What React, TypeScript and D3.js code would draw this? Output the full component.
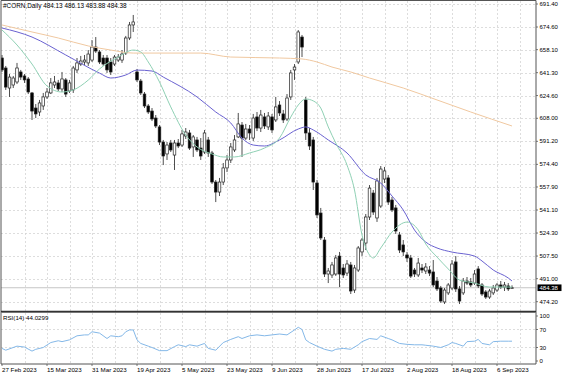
import React from 'react';
import * as d3 from 'd3';

const W = 564;
const H = 376;

const title = '#CORN,Daily 484.13 486.13 483.88 484.38';
const rsiTitle = 'RSI(14) 44.0299';
const lastPrice = 484.38;

const dateLabels = ['27 Feb 2023', '15 Mar 2023', '31 Mar 2023', '19 Apr 2023', '5 May 2023', '23 May 2023', '9 Jun 2023', '28 Jun 2023', '17 Jul 2023', '2 Aug 2023', '18 Aug 2023', '6 Sep 2023'];
const priceTicks = [691.4, 674.6, 658.1, 641.3, 624.6, 608.0, 591.2, 574.4, 557.9, 541.1, 524.3, 507.5, 491.0, 474.2];
const rsiTicks = [100, 70, 30, 0];
const rsiLevels = [70, 30];

const openP = [652.0, 644.7, 630.1, 632.3, 634.5, 641.8, 638.9, 636.7, 626.5, 615.5, 612.6, 617.0, 623.6, 626.5, 632.3, 633.8, 629.4, 636.0, 627.9, 628.7,
  643.3, 647.6, 649.1, 648.4, 650.5, 660.0, 656.4, 652.0, 652.0, 649.1, 647.6, 650.5, 650.5, 655.7, 666.6, 676.1, 641.8, 635.2, 625.7, 617.0,
  613.3, 608.2, 601.7, 590.7, 582.0, 590.0, 581.2, 590.0, 588.5, 595.1, 597.3, 587.1, 592.2, 586.3, 583.4, 592.2, 582.7, 561.5, 554.2, 561.5,
  571.8, 577.6, 584.9, 594.4, 603.1, 593.6, 600.2, 593.6, 609.0, 600.9, 609.0, 601.7, 609.0, 606.8, 617.7, 611.2, 607.5, 623.6, 643.3, 649.1,
  667.3, 621.4, 597.3, 592.2, 560.8, 538.9, 519.2, 494.4, 493.7, 494.4, 507.5, 498.8, 495.1, 501.0, 482.7, 497.3, 510.5, 517.0, 536.0, 553.5,
  535.3, 544.0, 563.7, 564.5, 548.4, 542.6, 522.9, 515.6, 508.3, 506.1, 497.3, 493.7, 498.8, 496.6, 497.3, 495.9, 489.3, 484.2, 474.0, 480.6,
  484.2, 503.2, 483.5, 480.6, 489.3, 488.6, 487.8, 498.1, 486.4, 481.3, 477.6, 480.6, 482.7, 486.4, 484.9, 485.7, 484.13];
const highP = [654.2, 646.2, 640.3, 638.9, 648.4, 643.3, 640.3, 638.1, 627.2, 618.4, 621.4, 626.5, 630.1, 637.4, 638.9, 636.0, 641.8, 637.4, 636.0, 646.2,
  652.0, 653.5, 654.2, 657.8, 665.1, 667.3, 657.8, 654.2, 654.2, 652.0, 654.2, 654.9, 657.8, 668.1, 678.3, 683.4, 644.0, 636.7, 627.2, 618.4,
  615.5, 610.4, 603.1, 592.2, 590.7, 592.2, 592.2, 592.9, 599.5, 600.9, 599.5, 595.8, 594.4, 593.6, 599.5, 594.4, 584.2, 563.0, 564.5, 575.4,
  581.2, 590.0, 595.8, 611.9, 605.3, 603.9, 603.1, 611.2, 612.6, 614.1, 611.9, 612.6, 611.2, 623.6, 620.6, 614.1, 625.7, 643.3, 647.6, 672.4,
  668.8, 623.6, 600.9, 594.4, 563.0, 542.6, 521.4, 498.8, 503.2, 508.3, 510.5, 501.7, 504.6, 503.2, 501.0, 514.8, 520.7, 538.2, 559.3, 555.7,
  564.5, 573.2, 572.5, 566.6, 550.6, 544.8, 525.1, 519.2, 510.5, 508.3, 498.8, 506.1, 501.7, 502.4, 500.2, 504.6, 492.2, 485.7, 484.2, 487.8,
  504.6, 507.5, 485.7, 491.5, 492.2, 491.5, 497.3, 500.2, 487.8, 482.7, 483.5, 486.4, 487.8, 489.3, 488.6, 487.8, 486.13];
const lowP = [641.8, 628.7, 623.6, 630.1, 633.0, 636.0, 633.8, 625.7, 606.8, 608.2, 609.7, 614.1, 622.1, 625.7, 630.1, 627.9, 627.2, 623.6, 626.5, 626.5,
  641.1, 646.2, 646.9, 646.2, 649.1, 655.7, 647.6, 646.2, 641.1, 639.6, 646.2, 649.1, 648.4, 654.2, 665.1, 671.0, 634.5, 625.0, 615.5, 611.2,
  606.0, 600.9, 588.5, 573.9, 577.6, 583.4, 570.3, 586.3, 587.1, 592.9, 584.9, 579.8, 583.4, 577.6, 582.0, 579.8, 560.1, 546.9, 551.3, 559.3,
  568.8, 575.4, 583.4, 593.6, 579.8, 592.2, 592.2, 591.5, 598.7, 598.0, 600.2, 599.5, 597.3, 605.3, 609.7, 604.6, 606.0, 621.4, 636.0, 647.6,
  652.7, 592.2, 584.9, 555.7, 535.3, 519.2, 492.2, 487.8, 491.5, 493.0, 484.9, 491.5, 493.0, 479.8, 480.6, 495.9, 507.5, 511.9, 533.8, 537.5,
  532.4, 542.6, 560.8, 544.8, 539.6, 523.6, 509.7, 507.5, 503.2, 491.5, 492.2, 492.2, 495.1, 494.4, 492.9, 484.9, 482.0, 473.3, 472.5, 479.1,
  482.7, 481.3, 472.5, 479.1, 486.4, 484.9, 486.4, 484.2, 478.4, 476.2, 476.2, 479.1, 481.3, 483.5, 482.0, 482.0, 483.88];
const closeP = [643.3, 630.8, 638.1, 637.4, 644.7, 638.1, 636.0, 627.2, 613.3, 611.2, 619.2, 623.6, 627.2, 633.8, 634.5, 629.4, 636.7, 625.7, 633.8, 644.7,
  648.4, 649.8, 650.5, 654.9, 660.0, 657.1, 649.1, 647.6, 643.3, 641.8, 652.7, 652.7, 654.9, 666.6, 676.1, 678.3, 636.0, 626.5, 617.0, 612.6,
  607.5, 602.4, 590.7, 580.5, 588.5, 584.9, 590.0, 587.8, 596.6, 598.0, 586.3, 594.4, 584.9, 580.5, 597.3, 582.7, 561.5, 554.2, 561.5, 571.8,
  577.6, 587.1, 592.2, 603.9, 593.6, 600.2, 597.3, 608.2, 600.9, 610.4, 602.4, 609.7, 599.5, 616.3, 611.9, 606.8, 622.8, 641.1, 645.4, 671.0,
  660.0, 597.3, 587.8, 561.5, 537.5, 520.7, 494.4, 496.6, 501.0, 506.1, 494.4, 493.7, 501.7, 482.0, 498.8, 513.4, 519.2, 536.0, 557.1, 539.6,
  562.3, 571.0, 569.6, 546.9, 541.1, 525.8, 511.9, 510.5, 506.1, 492.9, 494.4, 502.4, 497.3, 499.5, 495.1, 486.4, 483.5, 474.7, 482.7, 486.4,
  501.7, 483.5, 474.7, 489.3, 487.8, 486.4, 494.4, 485.7, 479.8, 477.6, 482.0, 484.2, 486.4, 484.9, 486.4, 483.5, 484.38];

// moving averages: [bar index, price]
const maSlow: [number, number][] = [[0, 676.1], [8, 671.0], [15, 666.6], [23, 660.8], [29, 657.8], [35, 655.6], [53, 655.6], [61, 652.7], [74, 652.0], [80, 651.3], [84, 649.1], [88, 645.4], [93, 641.8], [98, 637.4], [107, 630.1], [116, 621.4], [125, 612.6], [136, 602.4]];
const maMid: [number, number][] = [[0, 673.9], [8, 667.3], [17, 654.2], [26, 641.0], [29, 637.4], [33, 639.6], [36, 643.2], [40, 642.5], [43, 638.1], [52, 623.6], [57, 612.6], [61, 604.6], [64, 593.6], [67, 588.5], [70, 587.8], [74, 592.2], [79, 600.2], [81, 601.7], [83, 599.5], [87, 592.2], [92, 582.7], [97, 566.7], [101, 560.8], [104, 551.3], [107, 541.1], [110, 526.5], [113, 517.7], [116, 513.4], [120, 510.4], [126, 507.5], [128, 503.9], [131, 497.3], [135, 491.5], [136, 489.3]];
const maFast: [number, number][] = [[0, 672.4], [4, 661.5], [8, 647.6], [12, 631.6], [16, 627.2], [19, 628.7], [23, 635.9], [26, 644.0], [31, 652.7], [35, 657.8], [37, 656.4], [39, 649.1], [42, 634.5], [45, 616.3], [49, 595.8], [52, 587.1], [56, 582.0], [59, 579.8], [62, 579.8], [66, 582.7], [70, 586.3], [74, 593.6], [77, 608.9], [79, 617.7], [81, 622.1], [83, 620.7], [85, 615.5], [87, 601.7], [89, 590.0], [92, 573.9], [94, 555.7], [96, 522.9], [98, 508.3], [99, 506.1], [101, 513.4], [104, 525.0], [108, 532.3], [111, 526.5], [113, 516.3], [116, 506.8], [119, 498.1], [122, 490.0], [126, 487.8], [130, 484.9], [136, 484.9]];
const rsi: [number, number][] = [[0, 28], [1, 24], [4, 33], [6, 31], [8, 22], [9, 26], [11, 30], [13, 41], [15, 45], [16, 43], [18, 47], [20, 56], [22, 58], [23, 58], [24, 65], [26, 62], [28, 50], [29, 56], [31, 54], [32, 56], [33, 65], [34, 69], [35, 69], [36, 47], [37, 39], [39, 33], [40, 30], [42, 23], [44, 23], [46, 32], [47, 36], [49, 32], [50, 36], [52, 33], [54, 39], [55, 28], [57, 24], [59, 41], [61, 48], [63, 54], [64, 50], [66, 56], [68, 58], [70, 56], [72, 58], [74, 60], [76, 58], [78, 69], [79, 75], [80, 70], [81, 47], [82, 41], [84, 33], [86, 26], [88, 22], [89, 26], [91, 28], [93, 26], [95, 36], [96, 43], [98, 50], [100, 48], [101, 56], [103, 50], [104, 47], [106, 39], [108, 37], [110, 36], [112, 36], [113, 35], [115, 33], [117, 30], [119, 36], [120, 41], [121, 39], [123, 33], [124, 43], [126, 44], [127, 48], [128, 39], [130, 36], [131, 43], [133, 44], [135, 44], [136, 44]];

const FONT = '"Liberation Sans", Arial, sans-serif';

export default function App() {
  const left = 1, right = 536;
  const mainTop = 1, mainBottom = 311.5;
  const rsiTop = 313, rsiBottom = 364;
  const n = closeP.length;

  const x = d3.scaleLinear().domain([0, n - 1]).range([2, 512]);
  const y = d3.scaleLinear().domain([474.2, 691.4]).range([301.7, 4]);
  const yR = d3.scaleLinear().domain([0, 100]).range([361, 316]);

  const line = d3.line<[number, number]>().x(d => x(d[0])).y(d => y(d[1])).curve(d3.curveMonotoneX);
  const rsiLine = d3.line<[number, number]>().x(d => x(d[0])).y(d => yR(d[1]));

  const vGrid: number[] = [];
  for (let i = 6; i < n + 10; i += 6) vGrid.push(i);

  const bodyW = 2.6;

  return (
    <svg width={W} height={H} style={{ position: 'absolute', left: 0, top: 0, background: '#fff' }} fontFamily={FONT}>
      <defs>
        <clipPath id="mainClip"><rect x={left} y={mainTop} width={right - left} height={mainBottom - mainTop} /></clipPath>
        <clipPath id="rsiClip"><rect x={left} y={rsiTop} width={right - left} height={rsiBottom - rsiTop} /></clipPath>
      </defs>
      <rect x={0} y={0} width={W} height={H} fill="#fff" />
      {/* grid main */}
      <g stroke="#d4d4d4" strokeWidth={0.8} strokeDasharray="2,2">
        {priceTicks.map((p, k) => (
          <line key={'h' + k} x1={left} x2={right} y1={Math.round(y(p)) + 0.5} y2={Math.round(y(p)) + 0.5} />
        ))}
        {vGrid.map(i => x(i) < right ? (
          <line key={'v' + i} x1={Math.round(x(i)) + 0.5} x2={Math.round(x(i)) + 0.5} y1={mainTop} y2={mainBottom} />
        ) : null)}
        {vGrid.map(i => x(i) < right ? (
          <line key={'vr' + i} x1={Math.round(x(i)) + 0.5} x2={Math.round(x(i)) + 0.5} y1={rsiTop} y2={rsiBottom} />
        ) : null)}
        {rsiLevels.map(l => (
          <line key={'rl' + l} x1={left} x2={right} y1={yR(l)} y2={yR(l)} />
        ))}
      </g>
      {/* last price line */}
      <line x1={left} x2={right} y1={y(lastPrice)} y2={y(lastPrice)} stroke="#c0c0c0" strokeWidth={0.9} />
      {/* candles */}
      <g clipPath="url(#mainClip)">
        {closeP.map((c, i) => {
          const o = openP[i];
          const cx = x(i);
          const yo = y(o), yc = y(c);
          const top = Math.min(yo, yc);
          const h = Math.max(Math.abs(yo - yc), 0.8);
          const bull = c >= o;
          return (
            <g key={i}>
              <line x1={cx} x2={cx} y1={y(highP[i])} y2={y(lowP[i])} stroke="#222" strokeWidth={0.8} />
              <rect x={cx - bodyW / 2} y={top} width={bodyW} height={h}
                fill={bull ? '#fff' : '#000'} stroke="#222" strokeWidth={0.7} />
            </g>
          );
        })}
        <path d={line(maSlow) || ''} fill="none" stroke="#f0c8a0" strokeWidth={1} />
        <path d={line(maMid) || ''} fill="none" stroke="#6a62d0" strokeWidth={1} />
        <path d={line(maFast) || ''} fill="none" stroke="#8fd0b4" strokeWidth={1} />
      </g>
      {/* rsi */}
      <g clipPath="url(#rsiClip)">
        <path d={rsiLine(rsi) || ''} fill="none" stroke="#84b8e8" strokeWidth={1} />
      </g>
      {/* frames */}
      <g fill="none" stroke="#555" strokeWidth={1}>
        <line x1={left} x2={left} y1={0.5} y2={rsiBottom} />
        <line x1={right} x2={right} y1={0.5} y2={rsiBottom} />
        <line x1={left} x2={right} y1={0.5} y2={0.5} />
        <line x1={left} x2={right} y1={mainBottom} y2={mainBottom} stroke="#333" strokeWidth={1.4} />
        <line x1={left} x2={right} y1={rsiTop - 0.5} y2={rsiTop - 0.5} stroke="#777" />
        <line x1={left} x2={right} y1={rsiBottom} y2={rsiBottom} />
      </g>
      {/* texts */}
      <text x={3} y={8} fontSize={6.4} fill="#000">{title}</text>
      <text x={3} y={319.5} fontSize={6.2} fill="#000">{rsiTitle}</text>
      <g fontSize={6} fill="#000">
        {priceTicks.map((p, k) => (
          <g key={'pt' + k}>
            <line x1={right} x2={right + 2} y1={y(p)} y2={y(p)} stroke="#555" strokeWidth={0.8} />
            <text x={539.5} y={y(p) + 2}>{p.toFixed(2)}</text>
          </g>
        ))}
        {rsiTicks.map(t => (
          <g key={'rt' + t}>
            <line x1={right} x2={right + 2} y1={yR(t)} y2={yR(t)} stroke="#555" strokeWidth={0.8} />
            <text x={539.5} y={yR(t) + 2}>{t}</text>
          </g>
        ))}
      </g>
      <rect x={537.5} y={y(lastPrice) - 3.3} width={24} height={6.6} fill="#000" />
      <text x={539.5} y={y(lastPrice) + 2} fontSize={6} fill="#fff">{lastPrice.toFixed(2)}</text>
      <g fontSize={6.2} fill="#000">
        {dateLabels.map((d, k) => (
          <g key={'d' + k}>
            <line x1={x(k * 12)} x2={x(k * 12)} y1={rsiBottom} y2={rsiBottom + 2} stroke="#555" strokeWidth={0.8} />
            <text x={x(k * 12)} y={372}>{d}</text>
          </g>
        ))}
      </g>
    </svg>
  );
}
